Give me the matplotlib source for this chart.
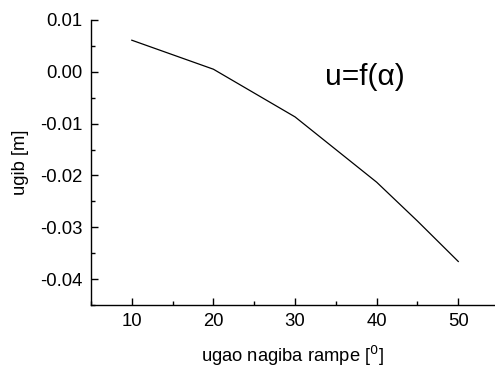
import matplotlib
matplotlib.use("Agg")
import matplotlib.pyplot as plt
from matplotlib.ticker import MultipleLocator

# angle of ramp [deg] and deflection [m]
angle = [10, 20, 30, 40, 45, 50]
deflection = [0.0061, 0.0005, -0.0087, -0.0213, -0.0288, -0.0366]

plt.rcParams['font.family'] = ['Liberation Sans', 'DejaVu Sans']

fig = plt.figure(figsize=(4.95, 3.67), dpi=100)
ax = fig.add_axes([91 / 495, 1 - 305 / 367, (495 - 91) / 495, (305 - 20) / 367])

ax.plot(angle, deflection, color='black', linewidth=0.9)

ax.set_xlim(5, 54.5)
ax.set_ylim(-0.045, 0.01)
ax.xaxis.set_major_locator(MultipleLocator(10))
ax.xaxis.set_minor_locator(MultipleLocator(5))
ax.yaxis.set_major_locator(MultipleLocator(0.01))
ax.yaxis.set_minor_locator(MultipleLocator(0.005))
ax.yaxis.set_major_formatter(plt.FuncFormatter(lambda v, _: f'{v:.2f}'))

for side in ['top', 'right']:
    ax.spines[side].set_visible(False)
for side in ['left', 'bottom']:
    ax.spines[side].set_linewidth(1.0)

ax.tick_params(which='both', direction='in', width=1.0, labelsize=13.3, pad=6)
ax.tick_params(which='major', length=5)
ax.tick_params(which='minor', length=3)

ax.set_xlabel('ugao nagiba rampe [$^0$]', fontsize=13.2, labelpad=10)
ax.set_ylabel('ugib [m]', fontsize=13.2, labelpad=8)

ax.text(365, 367 - 77, 'u=f(α)', transform=None, fontsize=21.5, ha='center', va='center')

fig.savefig('out.png', dpi=100)
